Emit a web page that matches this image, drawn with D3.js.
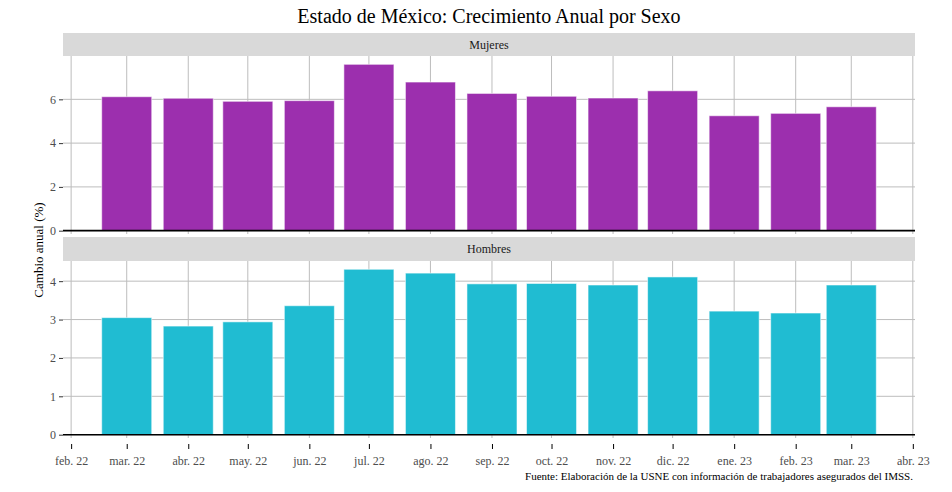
<!DOCTYPE html>
<html><head><meta charset="utf-8">
<script src="https://cdn.jsdelivr.net/npm/d3@7"></script>
<style>
html,body{margin:0;padding:0;background:#fff;}
svg{display:block;font-family:"Liberation Serif","Times New Roman",serif;}
</style></head>
<body><svg id="c" width="952" height="492"></svg>
<script>
const months = ["2022-03-01","2022-04-01","2022-05-01","2022-06-01","2022-07-01","2022-08-01","2022-09-01","2022-10-01","2022-11-01","2022-12-01","2023-01-01","2023-02-01","2023-03-01"];
const mujeres = [6.12,6.05,5.91,5.94,7.60,6.79,6.27,6.14,6.06,6.39,5.25,5.36,5.66];
const hombres = [3.05,2.83,2.94,3.36,4.31,4.21,3.93,3.94,3.90,4.11,3.22,3.17,3.90];
const tickDates = ["2022-02-01","2022-03-01","2022-04-01","2022-05-01","2022-06-01","2022-07-01","2022-08-01","2022-09-01","2022-10-01","2022-11-01","2022-12-01","2023-01-01","2023-02-01","2023-03-01","2023-04-01"];
const tickLabels = ["feb. 22","mar. 22","abr. 22","may. 22","jun. 22","jul. 22","ago. 22","sep. 22","oct. 22","nov. 22","dic. 22","ene. 23","feb. 23","mar. 23","abr. 23"];
const mujeresTicks = [0,2,4,6];
const hombresTicks = [0,1,2,3,4];
const panels = [
  {name:"Mujeres", values:mujeres, ticks:mujeresTicks, color:"#9c2fae", stripTop:33, top:56, bottom:234, showX:false},
  {name:"Hombres", values:hombres, ticks:hombresTicks, color:"#20bcd2", stripTop:237, top:261, bottom:438, showX:true}
];

const parse = d3.utcParse("%Y-%m-%d");
const dates = months.map(parse);
const tDates = tickDates.map(parse);
const DAY = 86400000;
const halfW = 12.6 * DAY; // 0.9 * 28 days / 2
const pad = 19.5 * DAY;
const L = 63, R = 915;
const x = d3.scaleUtc()
  .domain([new Date(+d3.min(dates) - halfW - pad), new Date(+d3.max(dates) + halfW + pad)])
  .range([L, R]);

const svg = d3.select("#c");
svg.append("text").attr("x", (L+R)/2).attr("y", 23).attr("text-anchor","middle")
  .attr("font-size", 20).attr("fill","#000").text("Estado de México: Crecimiento Anual por Sexo");

panels.forEach(p => {
  const mx = d3.max(p.values);
  const y = d3.scaleLinear().domain([-0.02*mx, mx*1.05]).range([p.bottom, p.top]);
  const g = svg.append("g");
  // strip
  g.append("rect").attr("x", L).attr("y", p.stripTop).attr("width", R-L).attr("height", p.top - p.stripTop).attr("fill","#d9d9d9");
  g.append("text").attr("x",(L+R)/2).attr("y",(p.stripTop+p.top)/2+4).attr("text-anchor","middle")
    .attr("font-size",12).attr("fill","#1a1a1a").text(p.name);
  // grid
  g.selectAll(".hg").data(p.ticks).join("line")
    .attr("x1",L).attr("x2",R).attr("y1",d=>y(d)).attr("y2",d=>y(d))
    .attr("stroke","#bdbdbd").attr("stroke-width",1);
  g.selectAll(".vg").data(tDates).join("line")
    .attr("x1",d=>x(d)).attr("x2",d=>x(d)).attr("y1",p.top).attr("y2",p.bottom)
    .attr("stroke","#bdbdbd").attr("stroke-width",1);
  // bars
  g.selectAll(".bar").data(p.values).join("rect")
    .attr("x",(d,i)=>x(new Date(+dates[i]-halfW)))
    .attr("width",(d,i)=>x(new Date(+dates[i]+halfW)) - x(new Date(+dates[i]-halfW)))
    .attr("y",d=>y(d)).attr("height",d=>y(0)-y(d))
    .attr("fill",p.color).attr("stroke","rgba(255,255,255,0.55)").attr("stroke-width",1);
  // zero line
  g.append("line").attr("x1",L).attr("x2",R).attr("y1",y(0)).attr("y2",y(0))
    .attr("stroke","#000").attr("stroke-width",1.6);
  // y axis
  const ya = g.append("g").attr("transform",`translate(${L},0)`)
    .call(d3.axisLeft(y).tickValues(p.ticks).tickSize(4).tickPadding(3).tickFormat(d3.format("d")));
  ya.select(".domain").remove();
  ya.selectAll("line").attr("stroke","#333");
  ya.selectAll("text").attr("font-size",12).attr("fill","#4d4d4d").attr("font-family","Liberation Serif, serif");
  if (p.showX) {
    const xa = g.append("g").attr("transform",`translate(0,${p.bottom+6})`)
      .call(d3.axisBottom(x).tickValues(tDates).tickSize(5).tickPadding(7).tickFormat((d,i)=>tickLabels[i]));
    xa.select(".domain").remove();
    xa.selectAll("line").attr("stroke","#000");
    xa.selectAll("text").attr("font-size",12).attr("fill","#4d4d4d").attr("font-family","Liberation Serif, serif");
  }
});

svg.append("text").attr("transform","translate(43,250) rotate(-90)").attr("text-anchor","middle")
  .attr("font-size",13).attr("fill","#000").text("Cambio anual (%)");
svg.append("text").attr("x",913).attr("y",480).attr("text-anchor","end")
  .attr("font-size",11).attr("fill","#000").text("Fuente: Elaboración de la USNE con información de trabajadores asegurados del IMSS.");
</script></body></html>
